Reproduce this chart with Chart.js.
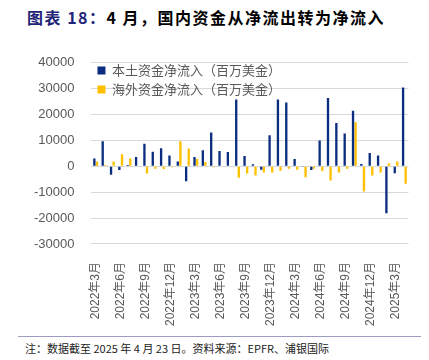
<!DOCTYPE html>
<html>
<head>
<meta charset="utf-8">
<script src="https://cdn.jsdelivr.net/npm/chart.js@4"></script>
<style>
  body { margin: 0; width: 429px; height: 360px; background: #fff; overflow: hidden; position: relative; }
  #title { position: absolute; left: 27px; top: 5px; font: bold 16px "Noto Sans CJK SC", sans-serif; letter-spacing: 1.5px; color: #000; white-space: nowrap; }
  #title span { color: #1f2479; }
  #wrap { position: absolute; left: 0; top: 38px; width: 429px; height: 298px; }
  #line { position: absolute; left: 18px; top: 336px; width: 403px; height: 0; border-top: 1px solid #9c9cc0; }
  #note { position: absolute; left: 25px; top: 340px; font: 11px "Noto Sans CJK SC", sans-serif; color: #222; white-space: nowrap; }
</style>
</head>
<body>
<div id="title"><span>图表 18：</span>4 月，国内资金从净流出转为净流入</div>
<div id="wrap"><canvas id="myChart"></canvas></div>
<div id="line"></div>
<div id="note">注：数据截至 2025 年 4 月 23 日。资料来源：EPFR、浦银国际</div>
<script>
const months = [
  "2022年3月", "2022年4月", "2022年5月", "2022年6月", "2022年7月", "2022年8月",
  "2022年9月", "2022年10月", "2022年11月", "2022年12月", "2023年1月", "2023年2月",
  "2023年3月", "2023年4月", "2023年5月", "2023年6月", "2023年7月", "2023年8月",
  "2023年9月", "2023年10月", "2023年11月", "2023年12月", "2024年1月", "2024年2月",
  "2024年3月", "2024年4月", "2024年5月", "2024年6月", "2024年7月", "2024年8月",
  "2024年9月", "2024年10月", "2024年11月", "2024年12月", "2025年1月", "2025年2月",
  "2025年3月", "2025年4月"
];
// 本土资金净流入（百万美金）
const domestic = [
  3000, 9700, -3300, -1400, 500, 3600, 8700, 5600, 7000, 4200,
  1900, -5800, 3600, 6200, 13100, 5900, 5500, 25800, 4000, 800,
  -1300, 12000, 25800, 24700, 2800, -300, -1400, 10000, 26400, 16700,
  12700, 21500, 900, 5100, 4200, -18100, -2700, 30500
];
// 海外资金净流入（百万美金）
const foreign = [
  1900, 500, 1900, 4700, 3000, 0, -2800, -900, -1000, -400,
  9700, 6900, 2800, 1700, -400, 0, 0, -4400, -2800, -3500,
  -2400, -2400, -1700, -900, -1300, -4200, -900, -1800, -5500, -2400,
  -900, 17000, -9700, -3500, -2400, 1200, 1900, -6700
];
const yTicks = [40000, 30000, 20000, 10000, 0, -10000, -20000, -30000];

const ctx = document.getElementById("myChart").getContext("2d");
const myChart = new Chart(ctx, {
  type: "bar",
  data: {
    labels: months,
    datasets: [
      {
        label: "本土资金净流入（百万美金）",
        data: domestic,
        backgroundColor: "#0b2d80",
        categoryPercentage: 0.62,
        barPercentage: 0.9
      },
      {
        label: "海外资金净流入（百万美金）",
        data: foreign,
        backgroundColor: "#ffc000",
        categoryPercentage: 0.62,
        barPercentage: 0.9
      }
    ]
  },
  options: {
    responsive: true,
    maintainAspectRatio: false,
    animation: false,
    layout: { padding: { left: 17, right: 16, top: 4, bottom: 0 } },
    plugins: {
      legend: {
        position: "chartArea",
        align: "start",
        title: {
          display: true,
          text: "",
          font: { size: 10, lineHeight: 1 },
          padding: { top: 0, bottom: 10 }
        },
        labels: {
          boxWidth: 8,
          boxHeight: 8,
          padding: 6,
          color: "#595959",
          font: { family: "'Noto Sans CJK SC', sans-serif", size: 13 }
        }
      },
      tooltip: { enabled: false }
    },
    scales: {
      x: {
        grid: { display: false },
        border: { display: false },
        ticks: {
          autoSkip: false,
          minRotation: 90,
          maxRotation: 90,
          padding: 10,
          color: "#595959",
          font: { family: "'Liberation Sans', 'Noto Sans CJK SC', sans-serif", size: 12 },
          callback: function (value, index) {
            return index % 3 === 0 ? months[index] : "";
          }
        }
      },
      y: {
        min: -30000,
        max: 40000,
        afterBuildTicks: function (scale) {
          scale.ticks = yTicks.map(v => ({ value: v }));
        },
        grid: { color: "#d9d9d9", lineWidth: 1, drawTicks: false },
        border: { display: false },
        ticks: {
          padding: 17,
          color: "#595959",
          font: { family: "'Liberation Sans', sans-serif", size: 13 },
          callback: function (value) {
            return String(value);
          }
        }
      }
    }
  }
});
</script>
</body>
</html>
